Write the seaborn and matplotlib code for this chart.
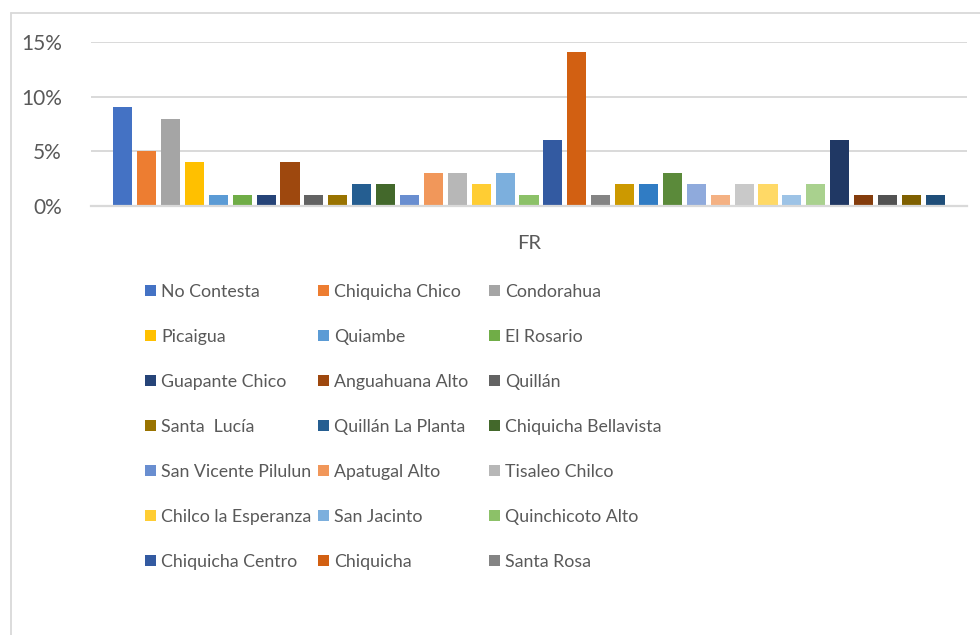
import matplotlib
matplotlib.use("Agg")
import matplotlib.pyplot as plt
from matplotlib.patches import Patch
from matplotlib.lines import Line2D
import pandas as pd
import seaborn as sns

# Datos (porcentaje por comunidad)
series = [
    "No Contesta", "Chiquicha Chico", "Condorahua",
    "Picaigua", "Quiambe", "El Rosario",
    "Guapante Chico", "Anguahuana Alto", "Quillán",
    "Santa  Lucía", "Quillán La Planta", "Chiquicha Bellavista",
    "San Vicente Pilulun", "Apatugal Alto", "Tisaleo Chilco",
    "Chilco la Esperanza", "San Jacinto", "Quinchicoto Alto",
    "Chiquicha Centro", "Chiquicha", "Santa Rosa",
    "Serie 22", "Serie 23", "Serie 24", "Serie 25", "Serie 26", "Serie 27",
    "Serie 28", "Serie 29", "Serie 30", "Serie 31", "Serie 32", "Serie 33",
    "Serie 34", "Serie 35",
]
valores = [
    9.1, 5.0, 8.0, 4.0, 1.0, 1.0, 1.0, 4.0, 1.0, 1.0, 2.0, 2.0,
    1.0, 3.0, 3.0, 2.0, 3.0, 1.0, 6.0, 14.1, 1.0, 2.0, 2.0, 3.0,
    2.0, 1.0, 2.0, 2.0, 1.0, 2.0, 6.0, 1.0, 1.0, 1.0, 1.0,
]
categoria = "FR"
n_leyenda = 21  # entradas visibles en la leyenda

colores = [
    "#4472C4", "#ED7D31", "#A5A5A5", "#FFC000", "#5B9BD5", "#70AD47",
    "#264478", "#9E480E", "#636363", "#997300", "#255E91", "#43682B",
    "#698ED0", "#F1975A", "#B7B7B7", "#FFCD33", "#7CAFDD", "#8CC168",
    "#335AA1", "#D26012", "#848484", "#CC9900", "#307CC4", "#5B8A3A",
    "#8FAADC", "#F4B183", "#C9C9C9", "#FFD966", "#9DC3E6", "#A9D18E",
    "#203864", "#843C0C", "#525252", "#7F6000", "#1F4E79",
]

df = pd.DataFrame({"categoria": categoria, "serie": series, "valor": valores})

sns.set_style("white")
plt.rcParams["font.family"] = ["Lato", "DejaVu Sans"]

fig = plt.figure(figsize=(9.8, 6.35), dpi=100)
ax = fig.add_axes([91 / 980, 1 - 206 / 635, 876 / 980, 164 / 635])

sns.barplot(data=df, x="categoria", y="valor", hue="serie", hue_order=series,
            palette=colores, saturation=1, width=0.955, gap=0.2,
            linewidth=0, legend=False, ax=ax)

ax.set_xlim(-0.5, 0.5)
ax.set_ylim(0, 15)
ax.set_yticks([0, 5, 10, 15])
ax.set_yticklabels(["0%", "5%", "10%", "15%"])
ax.yaxis.grid(True, color="#D9D9D9", linewidth=1.4)
ax.set_axisbelow(True)
for s in ["top", "right", "left"]:
    ax.spines[s].set_visible(False)
ax.spines["bottom"].set_color("#D9D9D9")
ax.spines["bottom"].set_linewidth(1.6)
ax.tick_params(axis="y", length=0, pad=21, labelsize=15, labelcolor="#595959")
ax.tick_params(axis="x", length=0, pad=21, labelsize=14.5, labelcolor="#595959")
ax.set_xlabel("")
ax.set_ylabel("")

# Leyenda: 3 columnas, relleno por filas
handles = [Patch(facecolor=c, edgecolor="none") for c in colores[:n_leyenda]]
etiquetas = series[:n_leyenda]
col_x = [145, 318, 489]
for c in range(3):
    idx = list(range(c, n_leyenda, 3))
    fig.legend([handles[i] for i in idx], [etiquetas[i] for i in idx],
               loc="upper left", bbox_to_anchor=(col_x[c] / 980, 1 - 284 / 635),
               frameon=False, fontsize=12.8, labelcolor="#595959",
               handlelength=0.6, handleheight=0.6, handletextpad=0.3,
               labelspacing=1.63, borderpad=0, borderaxespad=0)

# Borde del área del gráfico
fig.add_artist(Line2D([10.5 / 980, 10.5 / 980], [0, 1 - 13 / 635],
                      color="#D9D9D9", linewidth=1.3))
fig.add_artist(Line2D([10.5 / 980, 1], [1 - 13 / 635, 1 - 13 / 635],
                      color="#D9D9D9", linewidth=1.3))

fig.savefig("out.png", dpi=100, facecolor="white")
